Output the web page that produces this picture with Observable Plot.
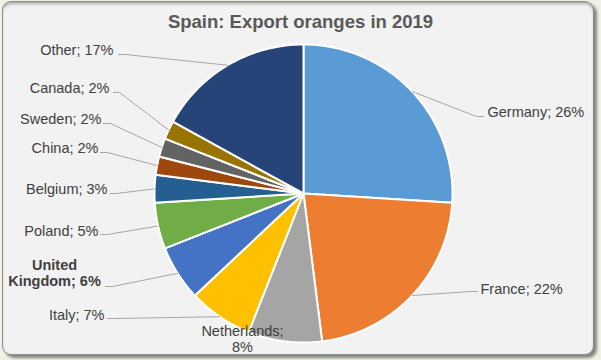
<!DOCTYPE html>
<html><head><meta charset="utf-8">
<script src="https://cdn.jsdelivr.net/npm/d3@7"></script>
<script src="https://cdn.jsdelivr.net/npm/@observablehq/plot@0.6"></script>
<style>
html,body{margin:0;padding:0;background:#eef3e6;}
#wrap{position:relative;width:601px;height:360px;overflow:hidden;}
#frame{position:absolute;left:2px;top:1px;width:590px;height:352px;background:#f2f2f2;border:1px solid #8c8c8c;border-radius:9px;box-shadow:3px 3px 3px rgba(0,0,0,.45), inset 0 3px 3px -1px rgba(0,0,0,.3);}
#title{position:absolute;left:0;top:12px;width:601px;text-align:center;font:bold 18.5px "Liberation Sans",Arial,sans-serif;line-height:20px;color:#595959;}
#chart{position:absolute;left:0;top:40px;}
</style></head><body>
<div id="wrap"><div id="frame"></div><div id="title"></div><div id="chart"></div></div>
<script>
const title = "Spain: Export oranges in 2019";
const countries = ["Germany","France","Netherlands","Italy","United Kingdom","Poland","Belgium","China","Sweden","Canada","Other"];
const shares = [26,22,8,7,6,5,3,2,2,2,17];
const labelTexts = ["Germany; 26%","France; 22%","Netherlands;\n8%","Italy; 7%","United\nKingdom; 6%","Poland; 5%","Belgium; 3%","China; 2%","Sweden; 2%","Canada; 2%","Other; 17%"];
const boldLabels = ["United Kingdom"];
const colors = ["#5B9BD5","#ED7D31","#A5A5A5","#FFC000","#4472C4","#70AD47","#255E91","#9E480E","#636363","#997300","#264478"];

// layout (page pixel space)
const pie = {cx: 303, cy: 193, r: 149};
// [textX, textY, anchor, lineStartX, lineStartY, elbowX]
const labelLayout = [
  [487,111,"start",483,116,476],
  [480,288,"start",477,291,470],
  [242,338,"middle",null,null,null],
  [104,314,"end",107,318,113],
  [54,272,"middle",105,286,112],
  [98,230,"end",100,234,107],
  [107,188,"end",110,193,116],
  [98,147,"end",100,152,107],
  [101,118,"end",103,123,110],
  [109,87,"end",113,92,119],
  [113,49,"end",118,54,125]
];

document.getElementById("title").textContent = title;

const arcs = d3.pie().sort(null).value(d => d)(shares);
const pt = (a, rr) => ({x: pie.cx + rr * Math.sin(a), y: pie.cy - rr * Math.cos(a)});

const slicePts = [];
arcs.forEach((a, i) => {
  const name = countries[i];
  slicePts.push({name, ...pt(0, 0)});
  const n = Math.max(2, Math.ceil((a.endAngle - a.startAngle) / (Math.PI / 180)));
  for (let k = 0; k <= n; k++) {
    const ang = a.startAngle + (a.endAngle - a.startAngle) * k / n;
    slicePts.push({name, ...pt(ang, pie.r)});
  }
});

const leaderPts = [];
const labels = [];
arcs.forEach((a, i) => {
  const [tx, ty, anchor, lx, ly, ex] = labelLayout[i];
  labels.push({name: countries[i], text: labelTexts[i], x: tx, y: ty, anchor});
  if (lx != null) {
    const mid = pt((a.startAngle + a.endAngle) / 2, pie.r);
    leaderPts.push({name: countries[i], x: lx, y: ly});
    leaderPts.push({name: countries[i], x: ex, y: ly});
    leaderPts.push({name: countries[i], ...mid});
  }
});

const font = '"Liberation Sans", Arial, sans-serif';
const textMark = (anchor, bold) => Plot.text(
  labels.filter(d => d.anchor === anchor && boldLabels.includes(d.name) === bold),
  {x: "x", y: "y", text: "text", textAnchor: anchor, fontSize: 14.5, fontFamily: font,
   fontWeight: bold ? "bold" : "normal", fill: "#404040", lineHeight: 1.15});

const chart = Plot.plot({
  width: 601, height: 320, margin: 0,
  x: {domain: [0, 601], range: [0, 601], axis: null},
  y: {domain: [40, 360], range: [0, 320], axis: null},
  color: {domain: countries, range: colors},
  style: {background: "transparent", overflow: "visible"},
  marks: [
    ...countries.map(c => Plot.line(slicePts.filter(d => d.name === c),
      {x: "x", y: "y", fill: "name", stroke: "white", strokeWidth: 2, strokeLinejoin: "round", curve: "linear-closed"})),
    Plot.line(leaderPts, {x: "x", y: "y", z: "name", stroke: "#a6a6a6", strokeWidth: 1}),
    textMark("start", false), textMark("end", false), textMark("middle", false), textMark("middle", true)
  ]
});
document.getElementById("chart").appendChild(chart);
</script>
</body></html>
